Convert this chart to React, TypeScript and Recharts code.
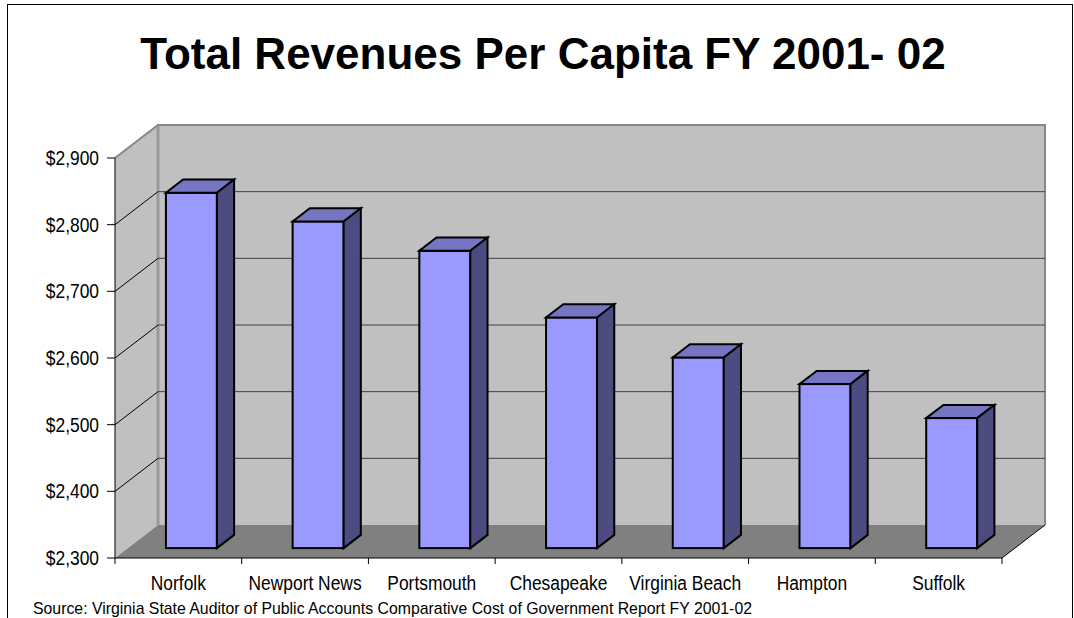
import React from 'react';
import { BarChart, Bar, XAxis, YAxis, ReferenceArea, ReferenceLine } from 'recharts';

const cities = ['Norfolk', 'Newport News', 'Portsmouth', 'Chesapeake', 'Virginia Beach', 'Hampton', 'Suffolk'];
const revenues = [2833, 2790, 2746, 2646, 2586, 2546, 2495];
const yTicks = [2300, 2400, 2500, 2600, 2700, 2800, 2900];
const innerGrid = [2400, 2500, 2600, 2700, 2800];
const title = 'Total Revenues Per Capita FY 2001- 02';
const source = 'Source: Virginia State Auditor of Public Accounts Comparative Cost of Government Report FY 2001-02';

const data = cities.map((name, i) => ({ name, value: revenues[i] }));

// depth of the 3-D box (front plane -> back wall)
const DX = 43;
const DY = 33;
const FONT = "'Liberation Sans', Arial, sans-serif";

function Walls(props: any) {
  const { x, y, width, height } = props;
  const r = x + width;
  const b = y + height;
  return (
    <g>
      {/* side wall */}
      <polygon points={`${x},${y} ${x + DX},${y - DY} ${x + DX},${b - DY} ${x},${b}`} fill="#C0C0C0" />
      {/* back wall */}
      <rect x={x + DX} y={y - DY} width={width} height={height} fill="#C0C0C0" />
      {/* floor */}
      <polygon points={`${x},${b} ${r},${b} ${r + DX},${b - DY} ${x + DX},${b - DY}`} fill="#808080" />
      <line x1={x + DX} y1={y - DY} x2={x + DX} y2={b - DY} stroke="#9A9A9A" strokeWidth={3} />
      <polyline
        points={`${x},${y} ${x + DX},${y - DY} ${r + DX},${y - DY} ${r + DX},${b - DY}`}
        fill="none"
        stroke="#868686"
        strokeWidth={2}
      />
      <line x1={r} y1={b} x2={r + DX} y2={b - DY} stroke="#000" strokeWidth={1} />
    </g>
  );
}

function GridLine3D(props: any) {
  const { x1, y1, x2 } = props;
  return (
    <g>
      <line x1={x1} y1={y1} x2={x1 + DX} y2={y1 - DY} stroke="#000" strokeWidth={1} />
      <line x1={x1 + DX} y1={y1 - DY} x2={x2 + DX} y2={y1 - DY} stroke="#404040" strokeWidth={1} />
    </g>
  );
}

function Bar3D(props: any) {
  const { x, y, width, height } = props;
  if (width == null || height == null) return null;
  // bar sits in the middle of the depth
  const x0 = x + DX * 0.3;
  const y0 = y - DY * 0.3;
  const bx = DX * 0.4;
  const by = DY * 0.4;
  const w = width;
  const h = height;
  return (
    <g stroke="#000" strokeWidth={2} strokeLinejoin="miter">
      <rect x={x0} y={y0} width={w} height={h} fill="#9999FF" />
      <polygon points={`${x0},${y0} ${x0 + w},${y0} ${x0 + w + bx},${y0 - by} ${x0 + bx},${y0 - by}`} fill="#7575C4" />
      <polygon
        points={`${x0 + w},${y0} ${x0 + w + bx},${y0 - by} ${x0 + w + bx},${y0 + h - by} ${x0 + w},${y0 + h}`}
        fill="#4C4C80"
      />
    </g>
  );
}

function YTick(props: any) {
  const { x, y, payload } = props;
  return (
    <g transform={`translate(${x},${y}) scale(0.87,1)`}>
      <text x={0} y={7} textAnchor="end" fontSize={20} fontFamily={FONT} fill="#000">
        {'$' + Number(payload.value).toLocaleString('en-US')}
      </text>
    </g>
  );
}

function XTick(props: any) {
  const { x, y, payload, index } = props;
  const half = payload.offset ?? 0;
  return (
    <g>
      {index === 0 && <line x1={x - half} y1={y - 8} x2={x - half} y2={y - 2} stroke="#000" />}
      <line x1={x + half} y1={y - 8} x2={x + half} y2={y - 2} stroke="#000" />
      <g transform={`translate(${x},${y + 24}) scale(0.87,1)`}>
        <text x={0} y={0} textAnchor="middle" fontSize={20} fontFamily={FONT} fill="#000">
          {payload.value}
        </text>
      </g>
    </g>
  );
}

export default function App() {
  return (
    <div style={{ position: 'absolute', left: 0, top: 0, width: 1074, height: 618, overflow: 'hidden', background: '#fff' }}>
      <div
        style={{
          position: 'absolute',
          left: 7,
          top: 4,
          width: 1066,
          height: 700,
          border: '1px solid #000',
          boxSizing: 'border-box',
        }}
      />
      <div style={{ position: 'absolute', left: 0, top: 0 }}>
        <BarChart
          width={1074}
          height={618}
          data={data}
          margin={{ top: 158, right: 72, bottom: 30, left: 55 }}
          barCategoryGap="30%"
        >
          <ReferenceArea y1={2300} y2={2900} ifOverflow="visible" shape={<Walls />} zIndex={-300} />
          {innerGrid.map((v) => (
            <ReferenceLine key={v} y={v} ifOverflow="visible" shape={<GridLine3D />} zIndex={-200} />
          ))}
          <XAxis
            dataKey="name"
            interval={0}
            height={30}
            tickSize={6}
            tickMargin={2}
            tickLine={false}
            axisLine={{ stroke: '#000' }}
            tick={<XTick />}
          />
          <YAxis
            type="number"
            domain={[2300, 2900]}
            ticks={yTicks}
            interval={0}
            allowDataOverflow
            width={60}
            tickSize={8}
            tickMargin={8}
            axisLine={{ stroke: '#000' }}
            tickLine={{ stroke: '#000' }}
            tick={<YTick />}
          />
          <Bar dataKey="value" fill="#9999FF" isAnimationActive={false} shape={<Bar3D />} />
        </BarChart>
      </div>
      <svg width={1074} height={618} style={{ position: 'absolute', left: 0, top: 0, pointerEvents: 'none' }}>
        <text x={543} y={69} textAnchor="middle" fontSize={44} fontWeight="bold" fontFamily={FONT} fill="#000">
          {title}
        </text>
        <text x={33} y={614} fontSize={17} fontFamily={FONT} fill="#000" textLength={719} lengthAdjust="spacingAndGlyphs">
          {source}
        </text>
      </svg>
    </div>
  );
}
